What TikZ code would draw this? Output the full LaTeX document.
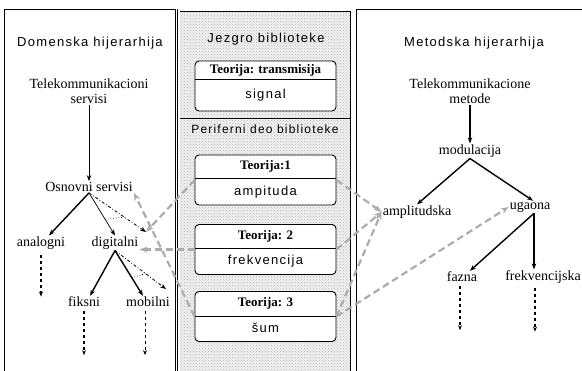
\documentclass[tikz,border=0pt]{standalone}
\usepackage{fontspec}
\setmainfont{Liberation Serif}
\newfontfamily\spacedsans[LetterSpace=10]{Liberation Sans}
\usetikzlibrary{arrows.meta,patterns,calc}

\begin{document}
\begin{tikzpicture}[x=1pt,y=-1pt,
  panel/.style={draw,line width=0.8pt},
  paneltitle/.style={font=\spacedsans\fontsize{13}{15}\selectfont},
  term/.style={font=\fontsize{14}{15}\selectfont,align=center,inner sep=1pt},
  teobox/.style={draw,fill=white,rounded corners=4pt,line width=0.9pt,minimum width=141pt,minimum height=50pt,inner sep=0pt},
  teohead/.style={font=\bfseries\fontsize{13}{15}\selectfont},
  teobody/.style={font=\spacedsans\fontsize{13}{15}\selectfont},
  isa/.style={line width=1.4pt,-{Stealth[length=6pt,width=4.5pt]}},
  subarrow/.style={line width=0.7pt,-{Stealth[length=6pt,width=4.5pt]}},
  inst/.style={line width=0.8pt,dash dot,-{Stealth[length=6pt,width=4.5pt]}},
  leafarrow/.style={line width=1.4pt,dashed,-{Stealth[length=5pt,width=4pt]}},
  libarrow/.style={gray!65,line width=2.2pt,dash pattern=on 7pt off 4pt,-{Stealth[length=8pt,width=6pt]}}]
\useasboundingbox (0,0) rectangle (582,371);

% panels
\draw[panel] (4,371) -- (4,9) -- (175,9) -- (175,371);
\fill[gray!12] (179,10) rectangle (351,371);
\fill[pattern=crosshatch dots,pattern color=gray!55] (179,10) rectangle (351,371);
\draw[panel,double,double distance=2pt] (178.5,371) -- (178.5,10.5) -- (351.5,10.5) -- (351.5,371);
\draw[panel] (356,371) -- (356,9) -- (582,9);
\draw[line width=0.6pt] (180,118) -- (350,118);

\node[paneltitle] (dom) at (90,43) {Domenska hijerarhija};
\node[paneltitle] (jez) at (266,39) {Jezgro biblioteke};
\node[paneltitle,font=\spacedsans\fontsize{12}{14}\selectfont] (per) at (265,129) {Periferni deo biblioteke};
\node[paneltitle] (met) at (474,43) {Metodska hijerarhija};

% domenska hijerarhija
\node[term] (tks) at (89,91) {Telekommunikacioni\\servisi};
\node[term] (os) at (89,187) {Osnovni servisi};
\node[term] (an) at (41,243) {analogni};
\node[term] (dig) at (115,243) {digitalni};
\node[term] (fk) at (84,302) {fiksni};
\node[term] (mb) at (148,302) {mobilni};
\coordinate (osx) at (146,232);
\coordinate (digx) at (166,289);

\draw[subarrow] (tks) -- (os);
\draw[isa] (os.south) -- ([xshift=8pt]an.north);
\draw[subarrow] (os.south) -- (dig.north);
\draw[inst] (os.south) -- (osx);
\draw[dotted,line width=0.7pt] ($(os.south)!0.62!(dig.north)$) -- ($(os.south)!0.62!(osx)$);
\draw[isa] (dig.south) -- ([xshift=6pt]fk.north);
\draw[isa] (dig.south) -- ([xshift=-5pt]mb.north);
\draw[inst] (dig.south) -- (digx);
\draw[dotted,line width=0.7pt] ($(dig.south)!0.6!([xshift=-5pt]mb.north)$) -- ($(dig.south)!0.6!(digx)$);
\draw[leafarrow] ([yshift=-4pt]an.south) -- ++(0,42);
\draw[leafarrow] ([yshift=-3pt]fk.south) -- ++(0,44);
\draw[leafarrow,line width=0.8pt] ([xshift=-3pt,yshift=-3pt]mb.south) -- ++(0,44);

% metodska hijerarhija
\node[term] (tkm) at (470,91) {Telekommunikacione\\metode};
\node[term] (mod) at (470,151) {modulacija};
\node[term] (amp) at (417,212) {amplitudska};
\node[term] (ug) at (530,207) {ugaona};
\node[term] (fz) at (462,277) {fazna};
\node[term] (fr) at (543,277) {frekvencijska};

\draw[isa] (tkm) -- (mod);
\draw[isa] (mod.south) -- (amp.north);
\draw[isa] (mod.south) -- ([xshift=3pt]ug.north);
\draw[isa] ([xshift=4pt]ug.south) -- ([xshift=8pt]fz.north);
\draw[isa] ([xshift=4pt]ug.south) -- ([xshift=4pt]ug.south |- fr.north);
\draw[leafarrow] ([xshift=-2pt,yshift=-3pt]fz.south) -- ++(0,44);
\draw[leafarrow] ([xshift=-8pt,yshift=-3pt]fr.south) -- ++(0,44);

% biblioteka
\node[teobox] (t0) at (265.5,86) {};
\draw[line width=0.9pt] (t0.west |- 0,79) -- (t0.east |- 0,79);
\node[teohead] (t0h) at (265.5,70) {Teorija: transmisija};
\node[teobody] (t0b) at (265.5,95) {signal};

\node[teobox] (t1) at (265.5,180) {};
\draw[line width=0.9pt] (t1.west |- 0,178) -- (t1.east |- 0,178);
\node[teohead] (t1h) at (265.5,166) {Teorija:1};
\node[teobody] (t1b) at (265.5,192) {ampituda};

\node[teobox] (t2) at (265.5,249.5) {};
\draw[line width=0.9pt] (t2.west |- 0,248) -- (t2.east |- 0,248);
\node[teohead] (t2h) at (265.5,236) {Teorija: 2};
\node[teobody] (t2b) at (265.5,261) {frekvencija};

\node[teobox] (t3) at (265.5,316.5) {};
\draw[line width=0.9pt] (t3.west |- 0,316) -- (t3.east |- 0,316);
\node[teohead] (t3h) at (265.5,303) {Teorija: 3};
\node[teobody] (t3b) at (265.5,328) {šum};

% veze biblioteke i hijerarhija
\draw[libarrow] (t3.west) -- (os.south east);
\draw[libarrow] (t1.west) -- (osx);
\draw[libarrow] (t2.west) -- (t2.west -| dig.east);
\draw[libarrow] (t1.east) -- (amp.west);
\draw[libarrow] (t2.east) -- (amp.west);
\draw[libarrow] (t3.east) -- (amp.west);
\draw[libarrow] (t3.east) -- (ug.west);
\end{tikzpicture}
\end{document}
